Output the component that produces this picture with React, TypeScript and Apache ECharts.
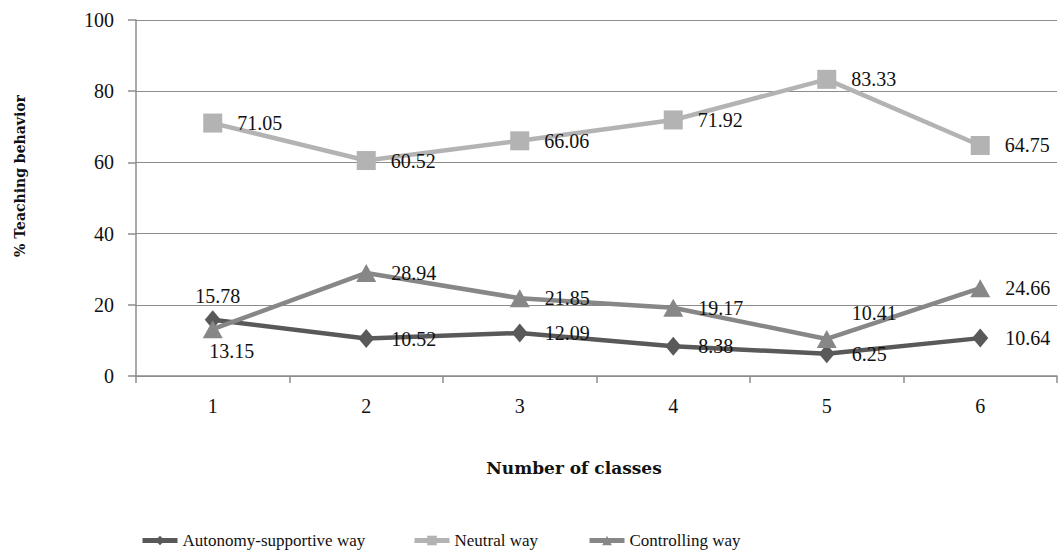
import React, { useEffect, useRef } from "react";
import * as echarts from "echarts";

const categories = ["1", "2", "3", "4", "5", "6"];
const autonomyValues = [15.78, 10.52, 12.09, 8.38, 6.25, 10.64];
const neutralValues = [71.05, 60.52, 66.06, 71.92, 83.33, 64.75];
const controllingValues = [13.15, 28.94, 21.85, 19.17, 10.41, 24.66];
const seriesNames = ["Autonomy-supportive way", "Neutral way", "Controlling way"];
const yTicks = { min: 0, max: 100, interval: 20 };

const SERIF = "Liberation Serif";
const TITLE_FONT = "DejaVu Serif";
const GRID_COLOR = "#8c8c8c";
const COLORS = ["#595959", "#b3b3b3", "#878787"];

export default function App() {
  const ref = useRef<HTMLDivElement>(null);

  useEffect(() => {
    if (!ref.current) return;
    const chart = echarts.init(ref.current, null, { renderer: "svg" });

    const labelBase = {
      show: true,
      position: "right" as const,
      color: "#111",
      fontFamily: SERIF,
      fontSize: 20,
    };

    const autonomyData = autonomyValues.map((v, i) =>
      i === 0
        ? { value: v, label: { position: "top", distance: 4, offset: [5, 0] } }
        : v
    );
    const controllingData = controllingValues.map((v, i) => {
      if (i === 0) return { value: v, label: { position: "bottom", distance: 3, offset: [19, 0] } };
      if (i === 4) return { value: v, label: { position: "right", offset: [0, -26] } };
      return v;
    });

    const legendCommon = {
      top: 532,
      padding: 0,
      itemWidth: 35,
      itemHeight: 12,
      selectedMode: false,
      textStyle: { fontFamily: SERIF, fontSize: 17, color: "#111" },
      lineStyle: { width: 5 },
    };

    chart.setOption({
      animation: false,
      textStyle: { fontFamily: SERIF },
      grid: { left: 136, right: 2, top: 20, bottom: 177, containLabel: false },
      legend: [
        { ...legendCommon, left: 140, data: [seriesNames[0]] },
        { ...legendCommon, left: 412, data: [seriesNames[1]] },
        { ...legendCommon, left: 587, data: [seriesNames[2]] },
      ],
      xAxis: {
        type: "category",
        data: categories,
        boundaryGap: true,
        axisLine: { show: true, lineStyle: { color: GRID_COLOR, width: 1.5 } },
        axisTick: { show: true, alignWithLabel: false, length: 7, lineStyle: { color: GRID_COLOR, width: 1.5 } },
        axisLabel: { margin: 20, color: "#111", fontFamily: SERIF, fontSize: 20 },
        splitLine: { show: false },
      },
      yAxis: {
        type: "value",
        min: yTicks.min,
        max: yTicks.max,
        interval: yTicks.interval,
        axisLine: { show: true, lineStyle: { color: GRID_COLOR, width: 1.5 } },
        axisTick: { show: true, length: 8, lineStyle: { color: GRID_COLOR, width: 1.5 } },
        axisLabel: { margin: 22, color: "#111", fontFamily: SERIF, fontSize: 20 },
        splitLine: { show: true, lineStyle: { color: GRID_COLOR, width: 1 } },
      },
      graphic: [
        {
          type: "text",
          x: 20,
          y: 176,
          rotation: Math.PI / 2,
          style: {
            text: "% Teaching behavior",
            fontFamily: TITLE_FONT,
            fontWeight: "bold",
            fontSize: 14,
            fill: "#111",
            align: "center",
            verticalAlign: "middle",
          },
        },
        {
          type: "text",
          x: 574,
          y: 468,
          style: {
            text: "Number of classes",
            fontFamily: TITLE_FONT,
            fontWeight: "bold",
            fontSize: 17,
            fill: "#111",
            align: "center",
            verticalAlign: "middle",
          },
        },
      ],
      series: [
        {
          name: seriesNames[0],
          type: "line",
          data: autonomyData,
          symbol: "diamond",
          symbolSize: [16, 19],
          itemStyle: { color: COLORS[0] },
          lineStyle: { color: COLORS[0], width: 4.5 },
          label: { ...labelBase, distance: 17 },
          z: 2,
        },
        {
          name: seriesNames[1],
          type: "line",
          data: neutralValues,
          symbol: "rect",
          symbolSize: 19,
          itemStyle: { color: COLORS[1] },
          lineStyle: { color: COLORS[1], width: 4.5 },
          label: { ...labelBase, distance: 15 },
          z: 3,
        },
        {
          name: seriesNames[2],
          type: "line",
          data: controllingData,
          symbol: "triangle",
          symbolSize: [20, 18],
          itemStyle: { color: COLORS[2] },
          lineStyle: { color: COLORS[2], width: 4.5 },
          label: { ...labelBase, distance: 15 },
          z: 4,
        },
      ],
    });

    return () => chart.dispose();
  }, []);

  return (
    <div
      ref={ref}
      style={{ position: "fixed", left: 0, top: 0, width: 1059, height: 553, background: "#fff" }}
    />
  );
}
